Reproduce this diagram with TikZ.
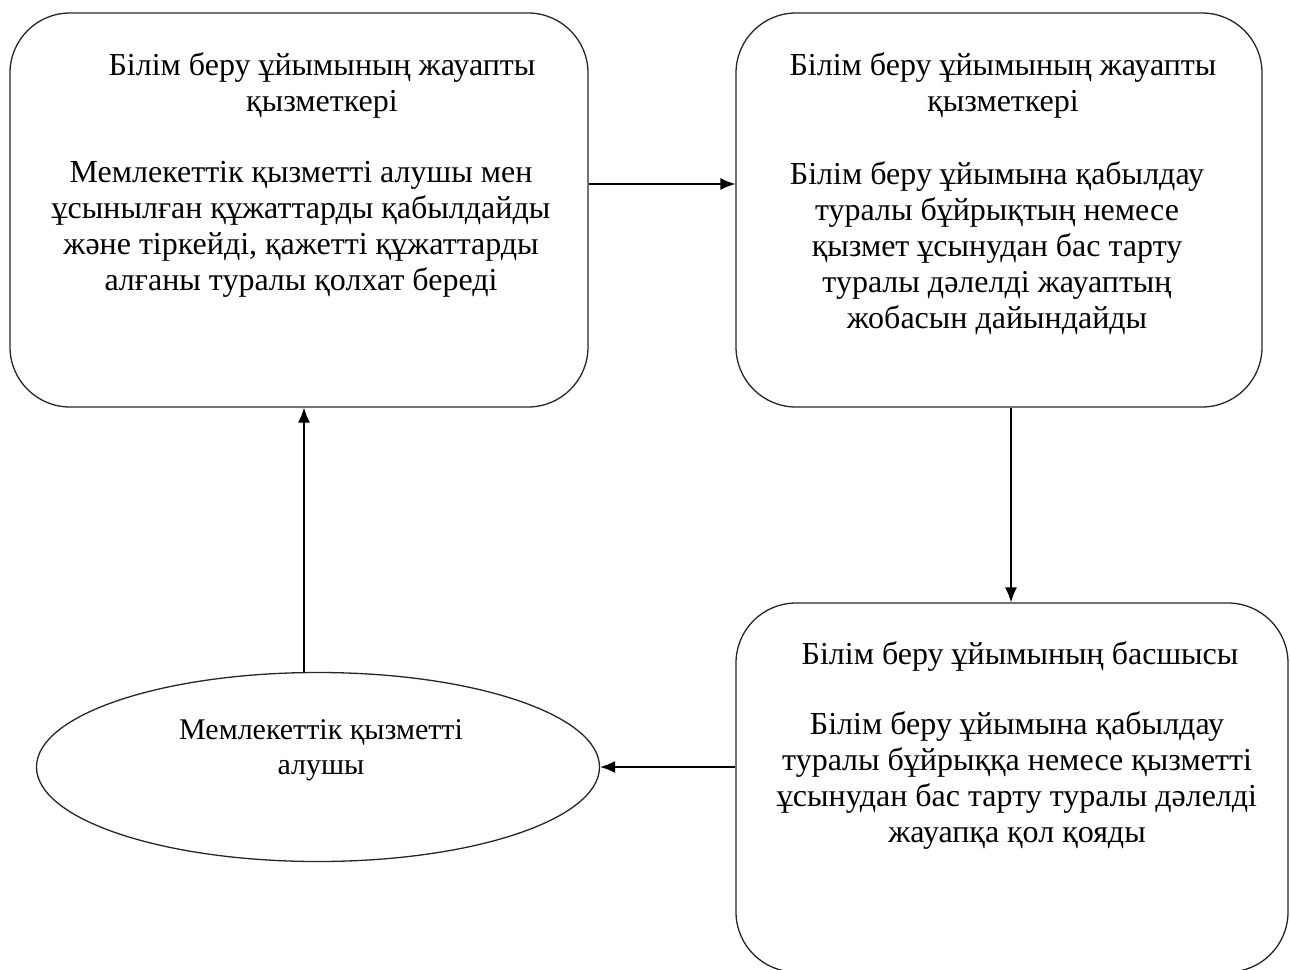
\documentclass[tikz,border=0pt]{standalone}
\usepackage{fontspec}
\setmainfont{Liberation Serif}
\usetikzlibrary{shapes.geometric,arrows.meta}
\begin{document}
\begin{tikzpicture}[x=1pt,y=-1pt,
  box/.style={draw=black!85, line width=1.3pt, rounded corners=60pt, inner sep=0pt},
  oval/.style={draw=black!85, line width=1.3pt, ellipse, inner sep=0pt},
  txt/.style={align=center, inner sep=0pt, anchor=north, font=\fontsize{32}{36}\selectfont},
  otxt/.style={txt, font=\fontsize{30}{35}\selectfont},
  arr/.style={draw=black, line width=1.3pt, -{Latex[length=15pt,width=12pt]}}]
\useasboundingbox (0,0) rectangle (1290,969);
\clip (0,0) rectangle (1290,969);
\node[box, minimum width=578pt, minimum height=394pt] (b1) at (299,210) {};
\node[box, minimum width=526pt, minimum height=394pt] (b2) at (999,210) {};
\node[box, minimum width=552pt, minimum height=369pt] (b3) at (1012,787.5) {};
\node[oval, minimum width=563pt, minimum height=189pt] (el) at (318,767) {};
% texts
\node[txt] (t1) at (322,52) {Білім беру ұйымының жауапты\\қызметкері};
\node[txt] (d1) at (301,161) {Мемлекеттік қызметті алушы мен\\ұсынылған құжаттарды қабылдайды\\және тіркейді, қажетті құжаттарды\\алғаны туралы қолхат береді};
\node[txt] (t2) at (1003,52) {Білім беру ұйымының жауапты\\қызметкері};
\node[txt] (d2) at (997,161) {Білім беру ұйымына қабылдау\\туралы бұйрықтың немесе\\қызмет ұсынудан бас тарту\\туралы дәлелді жауаптың\\жобасын дайындайды};
\node[txt] (t3) at (1020,641) {Білім беру ұйымының басшысы};
\node[txt] (d3) at (1017,711) {Білім беру ұйымына қабылдау\\туралы бұйрыққа немесе қызметті\\ұсынудан бас тарту туралы дәлелді\\жауапқа қол қояды};
\node[otxt] (te) at (321,719) {Мемлекеттік қызметті\\алушы};
% connectors
\coordinate (ya) at (0,184);
\coordinate (xb) at (1011,0);
\coordinate (xd) at (304,0);
\draw[arr] (b1.east |- ya) -- (b2.west |- ya);
\draw[arr] (b2.south -| xb) -- (b3.north -| xb);
\draw[arr] (b3.west |- el.east) -- (el.east);
\draw[arr] (el.north -| xd) -- (b1.south -| xd);
\end{tikzpicture}
\end{document}
